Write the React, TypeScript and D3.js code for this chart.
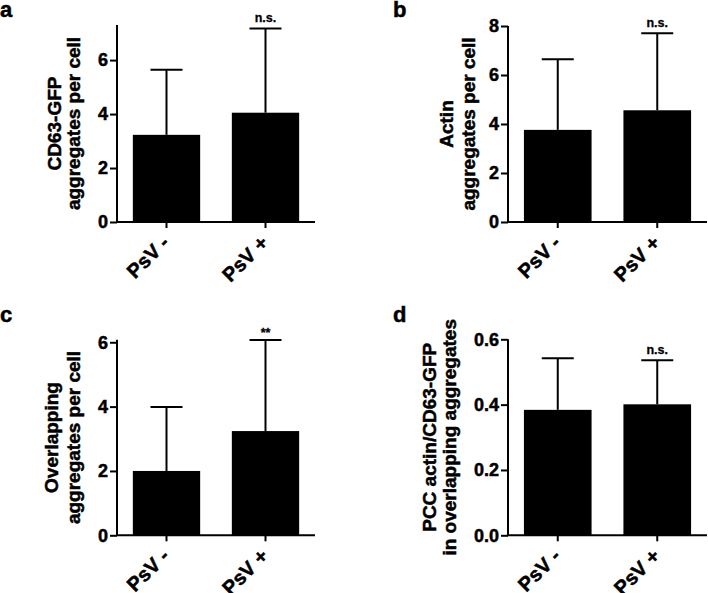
import { useEffect, useRef } from "react";
import * as d3 from "d3";

// groups on the x axis
const categories = ["PsV -", "PsV +"];

// panel a: CD63-GFP aggregates per cell
const cd63Mean = [3.23, 4.05];
const cd63Sd = [2.41, 3.12];
// panel b: actin aggregates per cell
const actinMean = [3.76, 4.56];
const actinSd = [2.88, 3.14];
// panel c: overlapping aggregates per cell
const overlapMean = [2.0, 3.24];
const overlapSd = [1.99, 2.83];
// panel d: PCC actin/CD63-GFP
const pccMean = [0.384, 0.401];
const pccSd = [0.158, 0.135];

const cd63Ticks = [0, 2, 4, 6];
const actinTicks = [0, 2, 4, 6, 8];
const overlapTicks = [0, 2, 4, 6];
const pccTicks = [0, 0.2, 0.4, 0.6];

const significance = [
    ["", "n.s."],
    ["", "n.s."],
    ["", "**"],
    ["", "n.s."],
];

const FONT = "'Liberation Sans', Arial, Helvetica, sans-serif";

// heavy bold text, a thin stroke thickens the glyphs a little
function boldText(sel: any, size: number) {
    return sel
        .attr("font-size", size)
        .attr("font-weight", "bold")
        .attr("font-family", FONT)
        .attr("fill", "#000")
        .attr("stroke", "#000")
        .attr("stroke-width", 0.5);
}

export default function App() {
    const svgRef = useRef<SVGSVGElement>(null);

    useEffect(() => {
        if (!svgRef.current) return;
        const svg = d3.select(svgRef.current);
        svg.selectAll("*").remove();

        const panels = [
            {
                letter: "a", lx: 0, ly: 17,
                left: 117, right: 315, top: 25, bottom: 222, yMax: 7.3,
                mean: cd63Mean, sd: cd63Sd, ticks: cd63Ticks, fmt: d3.format("d"),
                label: ["CD63-GFP", "aggregates per cell"], lineOff: [-56, -37],
                sig: significance[0],
            },
            {
                letter: "b", lx: 393, ly: 17,
                left: 508, right: 707, top: 26, bottom: 222, yMax: 8,
                mean: actinMean, sd: actinSd, ticks: actinTicks, fmt: d3.format("d"),
                label: ["Actin", "aggregates per cell"], lineOff: [-55, -33],
                sig: significance[1],
            },
            {
                letter: "c", lx: 0, ly: 322,
                left: 117, right: 315, top: 339.7, bottom: 535.3, yMax: 6.08,
                mean: overlapMean, sd: overlapSd, ticks: overlapTicks, fmt: d3.format("d"),
                label: ["Overlapping", "aggregates per cell"], lineOff: [-59, -37],
                sig: significance[2],
            },
            {
                letter: "d", lx: 393, ly: 322,
                left: 508, right: 707, top: 339.3, bottom: 535.3, yMax: 0.6,
                mean: pccMean, sd: pccSd, ticks: pccTicks, fmt: d3.format(".1f"),
                label: ["PCC actin/CD63-GFP", "in overlapping aggregates"], lineOff: [-72, -52],
                sig: significance[3],
            },
        ];

        panels.forEach((p) => {
            const g = svg.append("g");

            const x = d3
                .scaleBand()
                .domain(categories)
                .range([p.left, p.right])
                .paddingInner(0.32)
                .paddingOuter(0.16);

            const y = d3.scaleLinear().domain([0, p.yMax]).range([p.bottom, p.top]);

            // panel letter
            boldText(g.append("text").attr("x", p.lx).attr("y", p.ly), 22).text(p.letter);

            // bars
            g.selectAll("rect.bar")
                .data(categories)
                .join("rect")
                .attr("x", (d) => x(d)!)
                .attr("y", (_, i) => y(p.mean[i]))
                .attr("width", x.bandwidth())
                .attr("height", (_, i) => p.bottom - y(p.mean[i]))
                .attr("fill", "#000");

            // error bars (upper only)
            const cx = (d: string) => x(d)! + x.bandwidth() / 2;
            g.selectAll("line.err")
                .data(categories)
                .join("line")
                .attr("x1", cx)
                .attr("x2", cx)
                .attr("y1", (_, i) => y(p.mean[i]))
                .attr("y2", (_, i) => y(p.mean[i] + p.sd[i]))
                .attr("stroke", "#000")
                .attr("stroke-width", 2);
            g.selectAll("line.cap")
                .data(categories)
                .join("line")
                .attr("x1", (d) => cx(d) - 16)
                .attr("x2", (d) => cx(d) + 16)
                .attr("y1", (_, i) => y(p.mean[i] + p.sd[i]))
                .attr("y2", (_, i) => y(p.mean[i] + p.sd[i]))
                .attr("stroke", "#000")
                .attr("stroke-width", 2);

            // significance marks
            boldText(
                g.selectAll("text.sig")
                    .data(categories)
                    .join("text")
                    .attr("x", cx)
                    .attr("y", (_, i) => y(p.mean[i] + p.sd[i]) - (p.sig[i] === "**" ? 3 : 6.5))
                    .attr("text-anchor", "middle"),
                12.5
            )
                .attr("stroke-width", 0.3)
                .text((_, i) => p.sig[i]);

            // y axis
            const yAxis = g
                .append("g")
                .attr("transform", `translate(${p.left},0)`)
                .call(d3.axisLeft(y).tickValues(p.ticks).tickFormat(p.fmt as any).tickSize(7).tickPadding(2));
            yAxis.select(".domain").attr("d", `M0,${p.bottom}V${p.top}`).attr("stroke-width", 2);
            yAxis.selectAll(".tick line").attr("stroke-width", 2);
            boldText(yAxis.selectAll(".tick text"), 18);

            // x axis
            const xAxis = g
                .append("g")
                .attr("transform", `translate(0,${p.bottom})`)
                .call(d3.axisBottom(x).tickSize(6).tickFormat(() => ""));
            xAxis.select(".domain").attr("d", `M${p.left},0H${p.right}`).attr("stroke-width", 2);
            xAxis.selectAll(".tick line").attr("stroke-width", 2);

            // rotated category labels
            boldText(
                g.selectAll("text.cat")
                    .data(categories)
                    .join("text")
                    .attr("text-anchor", "end")
                    .attr("transform", (d) => `translate(${cx(d) + 4},${p.bottom + 22}) rotate(-45)`),
                20
            ).text((d) => d);

            // y axis title (two lines)
            const midY = (p.top + p.bottom) / 2;
            p.label.forEach((line, i) => {
                boldText(
                    g.append("text")
                        .attr("transform", `translate(${p.left + p.lineOff[i]},${midY}) rotate(-90)`)
                        .attr("text-anchor", "middle"),
                    19
                ).text(line);
            });
        });
    }, []);

    return (
        <svg
            ref={svgRef}
            width={708}
            height={593}
            style={{ position: "absolute", left: 0, top: 0, background: "#fff" }}
        />
    );
}
